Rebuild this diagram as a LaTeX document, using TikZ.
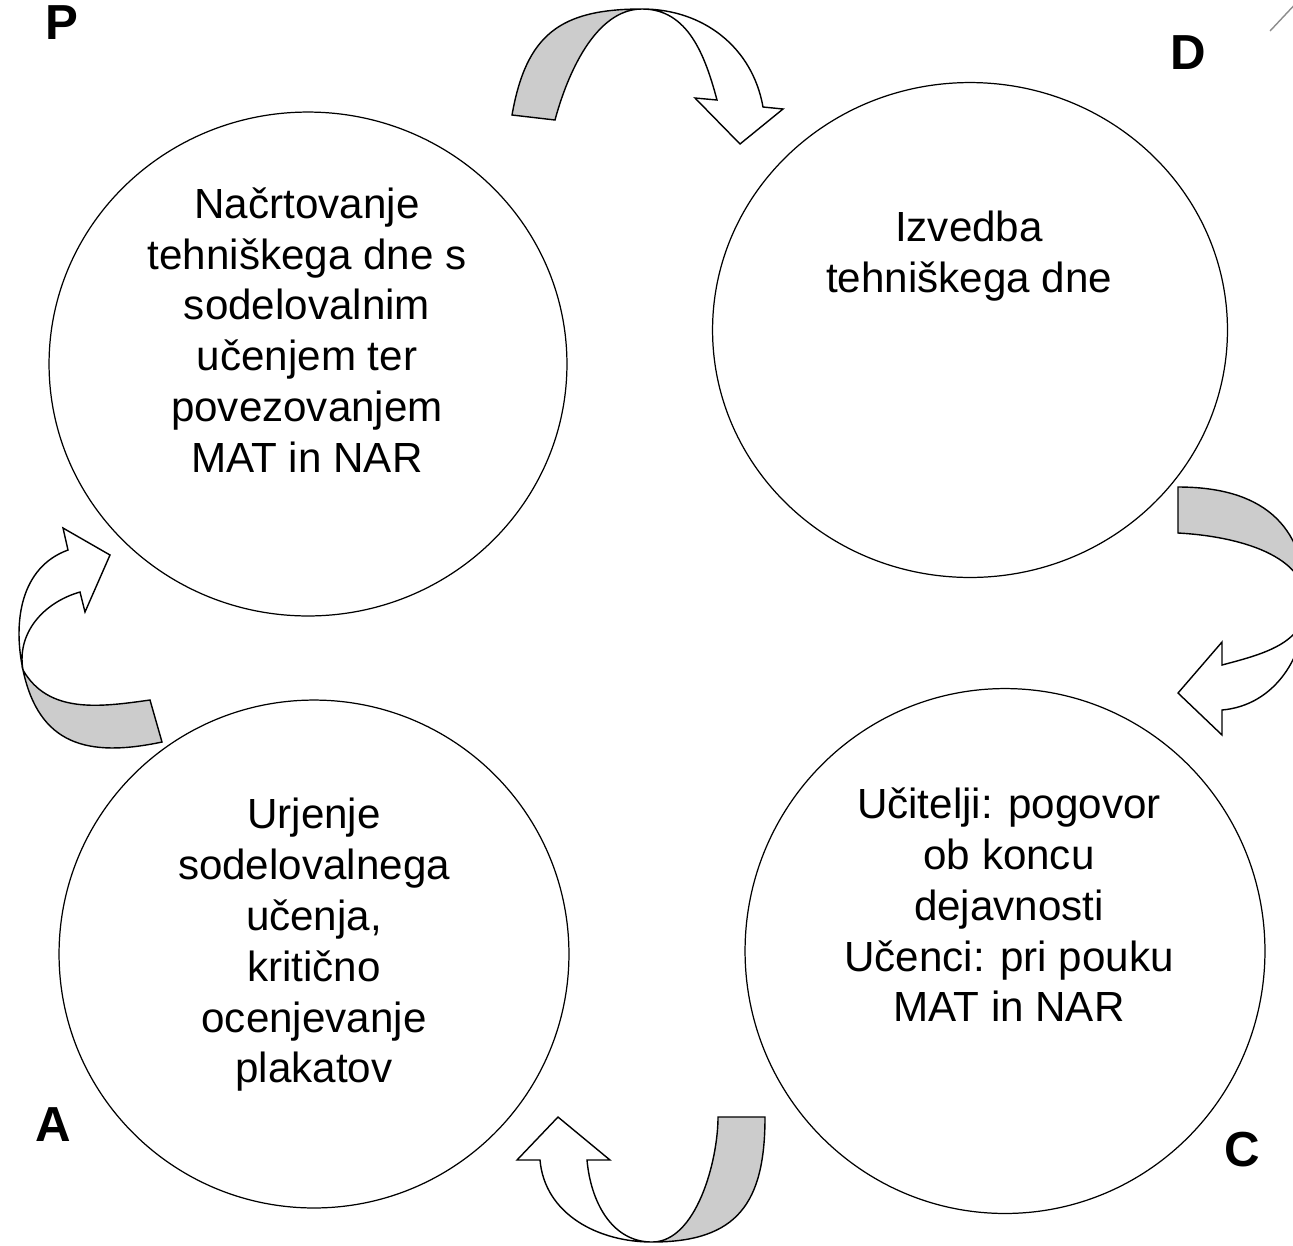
\documentclass[tikz,border=0pt]{standalone}
\usepackage{fontspec}
\setmainfont{Liberation Sans}
\usetikzlibrary{shapes.geometric}
\tikzset{
	phase/.style={draw,shape=ellipse,inner sep=0pt,line width=0.7pt},
	phasetext/.style={align=center,inner sep=0pt,font=\fontsize{24}{28.9}\selectfont},
	letter/.style={inner sep=0pt,font=\fontsize{28}{30}\selectfont\bfseries},
	band/.style={draw,fill=white,line width=0.8pt,line join=miter},
	backside/.style={band,fill=black!20},
}
\begin{document}
\begin{tikzpicture}[x=0.02cm,y=0.02cm]
	\useasboundingbox (0,0) rectangle (1293,-1245);
	\clip (0,0) rectangle (1293,-1245);
	% phases of the cycle
	\node[phase,minimum width=10.36cm,minimum height=10.08cm] (plan)  at (308,-364) {};
	\node[phase,minimum width=10.30cm,minimum height=9.90cm]  (do)    at (970,-330) {};
	\node[phase,minimum width=10.40cm,minimum height=10.50cm] (check) at (1005,-951) {};
	\node[phase,minimum width=10.20cm,minimum height=10.16cm] (act)   at (314,-954) {};
	\node[phasetext] (plantext)  at (307,-330)  {Načrtovanje\\tehniškega dne s\\sodelovalnim\\učenjem ter\\povezovanjem\\MAT in NAR};
	\node[phasetext] (dotext)    at (969,-256)  {Izvedba\\tehniškega dne};
	\node[phasetext] (checktext) at (1009,-905) {Učitelji: pogovor\\ob koncu\\dejavnosti\\Učenci: pri pouku\\MAT in NAR};
	\node[phasetext] (acttext)   at (314,-945)  {Urjenje\\sodelovalnega\\učenja,\\kritično\\ocenjevanje\\plakatov};
	\node[letter] (lp) at (62,-23)    {P};
	\node[letter] (ld) at (1188,-53)  {D};
	\node[letter] (lc) at (1242,-1150) {C};
	\node[letter] (la) at (53,-1125)  {A};
	% P -> D
	\coordinate (pdto) at (512,-115);  \coordinate (pdti) at (555,-120);
	\coordinate (pdx)  at (642,-9);
	\coordinate (pdso) at (763,-107);  \coordinate (pdbo) at (783,-109);
	\coordinate (pdtip) at (740,-144);
	\coordinate (pdbi) at (695,-98);   \coordinate (pdsi) at (717,-100);
	\path[backside] (pdto) to[out=80,in=180,looseness=1.25] (pdx) to[out=180,in=75,looseness=0.85] (pdti) -- cycle;
	\path[band] (pdx) to[out=0,in=100] (pdso) -- (pdbo) -- (pdtip) -- (pdbi) -- (pdsi) to[out=105,in=0] (pdx) -- cycle;
	% D -> C
	\coordinate (dcto) at (1178,-487); \coordinate (dcti) at (1178,-533);
	\coordinate (dcx)  at (1306,-603);
	\coordinate (dcso) at (1222,-710); \coordinate (dcbo) at (1222,-735);
	\coordinate (dctip) at (1178,-693);
	\coordinate (dcbi) at (1222,-642); \coordinate (dcsi) at (1222,-665);
	\path[backside] (dcto) to[out=0,in=90,looseness=1.2] (dcx) to[out=90,in=-3,looseness=0.9] (dcti) -- cycle;
	\path[band] (dcx) to[out=-90,in=5] (dcso) -- (dcbo) -- (dctip) -- (dcbi) -- (dcsi) to[out=15,in=-90] (dcx) -- cycle;
	% C -> A
	\coordinate (cato) at (765,-1117); \coordinate (cati) at (718,-1117);
	\coordinate (cax)  at (652,-1242);
	\coordinate (caso) at (540,-1160); \coordinate (cabo) at (517,-1160);
	\coordinate (catip) at (558,-1117);
	\coordinate (cabi) at (610,-1160); \coordinate (casi) at (587,-1160);
	\path[backside] (cato) to[out=-90,in=0,looseness=1.3] (cax) to[out=0,in=-90,looseness=0.8] (cati) -- cycle;
	\path[band] (cax) to[out=180,in=-85] (caso) -- (cabo) -- (catip) -- (cabi) -- (casi) to[out=-85,in=180] (cax) -- cycle;
	% A -> P
	\coordinate (apto) at (162,-742);  \coordinate (apti) at (150,-700);
	\coordinate (apx)  at (23,-670);
	\coordinate (apso) at (68,-550);   \coordinate (apbo) at (63,-528);
	\coordinate (aptip) at (110,-555);
	\coordinate (apbi) at (85,-612);   \coordinate (apsi) at (80,-592);
	\path[backside] (apto) to[out=192,in=-78,looseness=1.25] (apx) to[out=-60,in=188] (apti) -- cycle;
	\path[band] (apx) to[out=102,in=200] (apso) -- (apbo) -- (aptip) -- (apbi) -- (apsi) to[out=196,in=100] (apx) -- cycle;
	% corner mark
	\coordinate (mk1) at (1270,-31); \coordinate (mk2) at (1300,1);
	\draw[black!45,line width=0.8pt] (mk1) -- (mk2);
\end{tikzpicture}
\end{document}
